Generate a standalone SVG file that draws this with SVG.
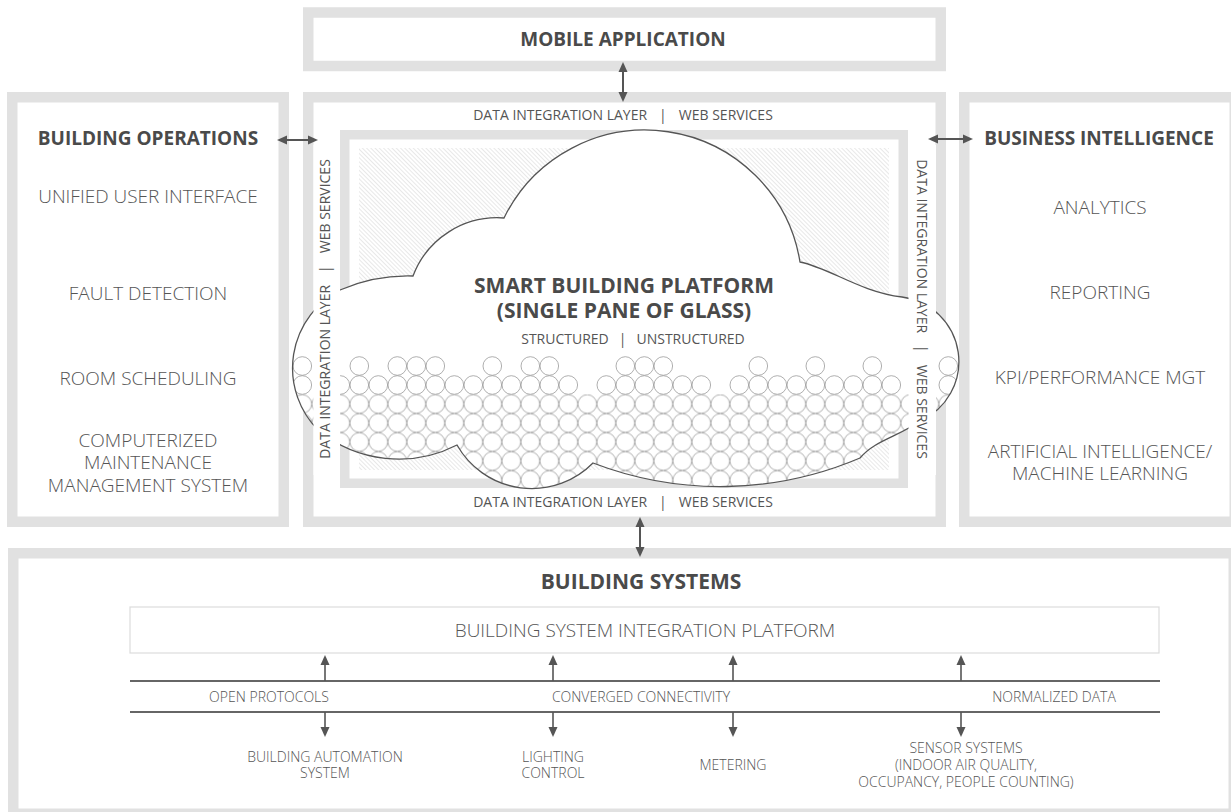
<svg xmlns="http://www.w3.org/2000/svg" width="1231" height="812" viewBox="0 0 1231 812">
<style>
.frame{fill:#fff;stroke:#e1e1e1;stroke-width:10.5}
.t{font-family:"Open Sans","Liberation Sans",sans-serif;fill:#555;text-anchor:middle}
.h{font-family:"Open Sans","Liberation Sans",sans-serif;fill:#4a4a4a;font-weight:700;text-anchor:middle}
.item{font-size:19px;font-weight:300}
.layer{font-size:14px}
.small{font-size:14px;font-weight:300}
.arr{stroke:#555;stroke-width:2;fill:none;marker-start:url(#ah);marker-end:url(#ah)}
.arr1{stroke:#555;stroke-width:1.6;fill:none;marker-end:url(#ah)}
.bus{stroke:#333;stroke-width:1.5}
.c{fill:none;stroke:#9a9a9a;stroke-width:0.8}
</style>
<defs>
<marker id="ah" viewBox="0 0 10 10" refX="5" refY="5" markerWidth="10" markerHeight="10" markerUnits="userSpaceOnUse" orient="auto-start-reverse">
<path d="M0,0.5 L10,5 L0,9.5 z" fill="#555"/>
</marker>
<pattern id="hatch" width="3" height="3" patternUnits="userSpaceOnUse" patternTransform="rotate(-45)">
<line x1="1.5" y1="0" x2="1.5" y2="3" stroke="#d9d9d9" stroke-width="0.6"/>
</pattern>
<pattern id="bub" x="292.8" y="394.5" width="19" height="19" patternUnits="userSpaceOnUse">
<circle cx="9.5" cy="9.5" r="9.3" fill="none" stroke="#9a9a9a" stroke-width="0.8"/>
</pattern>
<path id="cloudPath" d="M340,290 A170,170 0 0 1 413,276 A90,90 0 0 1 504,218 A157,157 0 0 1 800,262 C830,268 860,292 902,297 A65,65 0 0 1 920,421 C900,436 875,440 860,458 A356,356 0 0 1 593,463 A86,86 0 0 1 457,445 A127,127 0 0 1 318,430 A88,88 0 0 1 340,290 Z"/>
<clipPath id="cloudClip"><use href="#cloudPath"/></clipPath>
</defs>

<rect width="1231" height="812" fill="#fff"/>

<g id="mobile-application">
<rect class="frame" x="308.25" y="12.5" width="632.5" height="53.5"/>
<text class="h" x="623" y="46" font-size="19">MOBILE APPLICATION</text>
</g>

<g id="building-operations">
<rect class="frame" x="12.25" y="97.25" width="271.5" height="424.5"/>
<text class="h" x="148" y="145" font-size="19">BUILDING OPERATIONS</text>
<text class="t item" x="148" y="203">UNIFIED USER INTERFACE</text>
<text class="t item" x="148" y="300">FAULT DETECTION</text>
<text class="t item" x="148" y="385">ROOM SCHEDULING</text>
<text class="t item" x="148" y="447">COMPUTERIZED</text>
<text class="t item" x="148" y="469">MAINTENANCE</text>
<text class="t item" x="148" y="492">MANAGEMENT SYSTEM</text>
</g>

<g id="business-intelligence">
<rect class="frame" x="964.25" y="97.25" width="270.5" height="424.5"/>
<text class="h" x="1099" y="145" font-size="19">BUSINESS INTELLIGENCE</text>
<text class="t item" x="1100" y="214">ANALYTICS</text>
<text class="t item" x="1100" y="299">REPORTING</text>
<text class="t item" x="1100" y="384">KPI/PERFORMANCE MGT</text>
<text class="t item" x="1100" y="458">ARTIFICIAL INTELLIGENCE/</text>
<text class="t item" x="1100" y="480">MACHINE LEARNING</text>
</g>

<g id="smart-building-platform">
<rect class="frame" x="308.25" y="97.25" width="632.5" height="424.5"/>
<rect x="344.75" y="134.75" width="558.5" height="348.5" fill="#fff" stroke="#e1e1e1" stroke-width="9.5"/>
<rect x="359" y="148" width="530" height="322" fill="url(#hatch)"/>
<use href="#cloudPath" fill="#fff"/>
<g clip-path="url(#cloudClip)">
<rect x="285" y="394.5" width="680" height="110" fill="url(#bub)"/>
<g class="c">
<circle cx="302.3" cy="366" r="9.3"/><circle cx="359.3" cy="366" r="9.3"/><circle cx="397.3" cy="366" r="9.3"/><circle cx="416.3" cy="366" r="9.3"/><circle cx="435.3" cy="366" r="9.3"/><circle cx="492.3" cy="366" r="9.3"/><circle cx="530.3" cy="366" r="9.3"/><circle cx="549.3" cy="366" r="9.3"/><circle cx="625.3" cy="366" r="9.3"/><circle cx="644.3" cy="366" r="9.3"/><circle cx="663.3" cy="366" r="9.3"/><circle cx="758.3" cy="366" r="9.3"/><circle cx="815.3" cy="366" r="9.3"/><circle cx="872.3" cy="366" r="9.3"/><circle cx="948.3" cy="366" r="9.3"/>
<circle cx="302.3" cy="385" r="9.3"/><circle cx="340.3" cy="385" r="9.3"/><circle cx="359.3" cy="385" r="9.3"/><circle cx="378.3" cy="385" r="9.3"/><circle cx="397.3" cy="385" r="9.3"/><circle cx="416.3" cy="385" r="9.3"/><circle cx="435.3" cy="385" r="9.3"/><circle cx="454.3" cy="385" r="9.3"/><circle cx="473.3" cy="385" r="9.3"/><circle cx="492.3" cy="385" r="9.3"/><circle cx="511.3" cy="385" r="9.3"/><circle cx="530.3" cy="385" r="9.3"/><circle cx="549.3" cy="385" r="9.3"/><circle cx="568.3" cy="385" r="9.3"/>
<circle cx="606.3" cy="385" r="9.3"/><circle cx="625.3" cy="385" r="9.3"/><circle cx="644.3" cy="385" r="9.3"/><circle cx="663.3" cy="385" r="9.3"/><circle cx="682.3" cy="385" r="9.3"/><circle cx="701.3" cy="385" r="9.3"/>
<circle cx="739.3" cy="385" r="9.3"/><circle cx="758.3" cy="385" r="9.3"/><circle cx="777.3" cy="385" r="9.3"/><circle cx="796.3" cy="385" r="9.3"/><circle cx="815.3" cy="385" r="9.3"/><circle cx="834.3" cy="385" r="9.3"/><circle cx="853.3" cy="385" r="9.3"/><circle cx="872.3" cy="385" r="9.3"/><circle cx="891.3" cy="385" r="9.3"/><circle cx="948.3" cy="385" r="9.3"/>
</g>
</g>
<use href="#cloudPath" fill="none" stroke="#555" stroke-width="1.3"/>
<rect x="313.5" y="145" width="26.5" height="330" fill="#fff"/>
<rect x="908.5" y="145" width="27.5" height="330" fill="#fff"/>
<text class="t layer" x="623" y="120">DATA INTEGRATION LAYER<tspan dx="12">|</tspan><tspan dx="12">WEB SERVICES</tspan></text>
<text class="t layer" x="623" y="507">DATA INTEGRATION LAYER<tspan dx="12">|</tspan><tspan dx="12">WEB SERVICES</tspan></text>
<text class="t layer" transform="translate(330,309) rotate(-90)">DATA INTEGRATION LAYER<tspan dx="12">|</tspan><tspan dx="12">WEB SERVICES</tspan></text>
<text class="t layer" transform="translate(917,309) rotate(90)">DATA INTEGRATION LAYER<tspan dx="12">|</tspan><tspan dx="12">WEB SERVICES</tspan></text>
<text class="h" x="624" y="293" font-size="21">SMART BUILDING PLATFORM</text>
<text class="h" x="624" y="318" font-size="21">(SINGLE PANE OF GLASS)</text>
<text class="t layer" x="633" y="344">STRUCTURED<tspan dx="10">|</tspan><tspan dx="10">UNSTRUCTURED</tspan></text>
</g>

<g id="building-systems">
<rect class="frame" x="13.25" y="553.25" width="1220.5" height="260.5"/>
<text class="h" x="641" y="589" font-size="21">BUILDING SYSTEMS</text>
<rect x="130" y="607" width="1029" height="46" fill="#fff" stroke="#dcdcdc" stroke-width="1.2"/>
<text class="t item" x="645" y="637">BUILDING SYSTEM INTEGRATION PLATFORM</text>
<text class="t small" x="269" y="702">OPEN PROTOCOLS</text>
<text class="t small" x="641" y="702">CONVERGED CONNECTIVITY</text>
<text class="t small" x="1054" y="702">NORMALIZED DATA</text>
<text class="t small" x="325" y="762">BUILDING AUTOMATION</text>
<text class="t small" x="325" y="778">SYSTEM</text>
<text class="t small" x="553" y="762">LIGHTING</text>
<text class="t small" x="553" y="778">CONTROL</text>
<text class="t small" x="733" y="770">METERING</text>
<text class="t small" x="966" y="753">SENSOR SYSTEMS</text>
<text class="t small" x="966" y="770">(INDOOR AIR QUALITY,</text>
<text class="t small" x="966" y="787">OCCUPANCY, PEOPLE COUNTING)</text>
</g>

<g id="connectors">
<line class="arr" x1="623" y1="67" x2="623" y2="97"/>
<line class="arr" x1="282" y1="140" x2="313" y2="140"/>
<line class="arr" x1="933" y1="139" x2="968" y2="139"/>
<line class="arr" x1="640" y1="522" x2="640" y2="552"/>
<line class="bus" x1="130" y1="681" x2="1160" y2="681"/>
<line class="bus" x1="130" y1="712" x2="1160" y2="712"/>
<line class="arr1" x1="325" y1="681" x2="325" y2="660"/>
<line class="arr1" x1="553" y1="681" x2="553" y2="660"/>
<line class="arr1" x1="733" y1="681" x2="733" y2="660"/>
<line class="arr1" x1="961" y1="681" x2="961" y2="660"/>
<line class="arr1" x1="325" y1="712" x2="325" y2="732"/>
<line class="arr1" x1="553" y1="712" x2="553" y2="732"/>
<line class="arr1" x1="733" y1="712" x2="733" y2="732"/>
<line class="arr1" x1="961" y1="712" x2="961" y2="732"/>
</g>
</svg>
